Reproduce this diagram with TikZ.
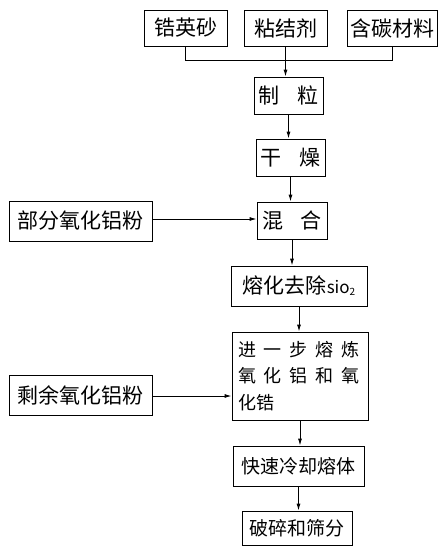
\documentclass[tikz,border=0pt]{standalone}
\usepackage{fontspec}
\newfontfamily\cjk{Noto Sans CJK SC}
\usetikzlibrary{arrows.meta}
\tikzset{
  box/.style={draw, line width=0.9pt, rectangle, inner sep=0pt, align=center, font=\cjk\fontsize{21}{24}\selectfont},
  flow/.style={line width=0.9pt, -{Latex[length=7pt,width=4pt]}},
  link/.style={line width=0.9pt}
}
\newcommand{\gp}{\hspace{8pt}}
\begin{document}
\begin{tikzpicture}[x=1pt,y=-1pt]
\useasboundingbox[fill=white] (0,0) rectangle (446,551);
\node[box, minimum width=83pt, minimum height=36pt] (zircon) at (185.5,28) {锆英砂};
\node[box, minimum width=83pt, minimum height=36pt] (binder) at (285.5,28) {粘结剂};
\node[box, minimum width=90pt, minimum height=36pt] (carbon) at (392,28) {含碳材料};
\node[box, minimum width=69pt, minimum height=37pt] (granul) at (288.5,95.5) {制\hspace{0.85em}粒};
\node[box, minimum width=69pt, minimum height=37pt] (dry) at (290.5,157.5) {干\hspace{0.85em}燥};
\node[box, minimum width=70pt, minimum height=37pt] (mix) at (292,220.5) {混\hspace{0.85em}合};
\node[box, minimum width=143pt, minimum height=40pt] (partal) at (80.5,221) {部分氧化铝粉};
\node[box, minimum width=136pt, minimum height=40pt] (melt) at (299,286) {熔化去除{\fontsize{17}{18}\selectfont sio\raisebox{-2pt}{\fontsize{10}{10}\selectfont 2}}};
\node[box, minimum width=136pt, minimum height=88pt, text width=124pt, align=left, font=\cjk\fontsize{18}{26.5}\selectfont] (smelt) at (300,376)
  {进\gp 一\gp 步\gp 熔\gp 炼\\氧\gp 化\gp 铝\gp 和\gp 氧\\化锆};
\node[box, minimum width=143pt, minimum height=40pt] (restal) at (80.5,395) {剩余氧化铝粉};
\node[box, minimum width=131pt, minimum height=40pt, font=\cjk\fontsize{19}{22}\selectfont] (cool) at (298.5,466) {快速冷却熔体};
\node[box, minimum width=110pt, minimum height=34pt, font=\cjk\fontsize{19}{22}\selectfont] (crush) at (297,528) {破碎和筛分};

\coordinate (jz) at (zircon.south |- 0,60);
\coordinate (jc) at (carbon.south |- 0,60);
\draw[link] (zircon.south) -- (jz) -- (jc) -- (carbon.south);
\draw[flow] (binder.south) -- (binder.south |- granul.north);
\draw[flow] (granul.south) -- (granul.south |- dry.north);
\draw[flow] (dry.south) -- (dry.south |- mix.north);
\draw[flow] (partal.east |- 0,219) -- (mix.west |- 0,219);
\draw[flow] (mix.south) -- (mix.south |- melt.north);
\draw[flow] (melt.south) -- (melt.south |- smelt.north);
\draw[flow] (restal.east |- 0,396) -- (smelt.west |- 0,396);
\draw[flow] (smelt.south) -- (smelt.south |- cool.north);
\draw[flow] (cool.south) -- (cool.south |- crush.north);
\end{tikzpicture}
\end{document}
